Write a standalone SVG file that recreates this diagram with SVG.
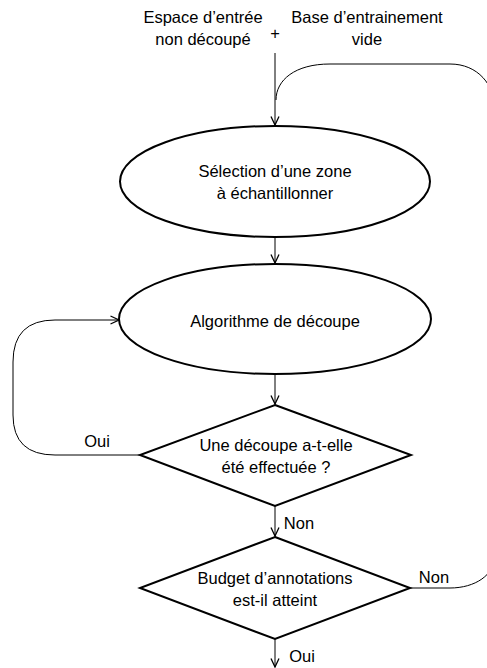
<svg xmlns="http://www.w3.org/2000/svg" width="487" height="668" viewBox="0 0 487 668">
<defs>
<marker id="arr" viewBox="0 0 10 10" refX="9.5" refY="5" markerWidth="10" markerHeight="10" markerUnits="userSpaceOnUse" orient="auto">
<path d="M1,1 L9.5,5 L1,9" fill="none" stroke="#000" stroke-width="1.3"/>
</marker>
<style>
.shape{fill:#fff;stroke:#000;stroke-width:2}
.con{fill:none;stroke:#000;stroke-width:1}
text{font-family:"Liberation Sans",Arial,sans-serif;font-size:16.5px;fill:#000;text-anchor:middle}
</style>
</defs>
<rect width="487" height="668" fill="#fff"/>
<g id="inputs">
<text x="203" y="23">Espace d’entrée</text>
<text x="203" y="45">non découpé</text>
<text x="275" y="39">+</text>
<text x="367" y="23">Base d’entrainement</text>
<text x="367" y="45">vide</text>
</g>
<g id="connectors">
<path class="con" d="M275,53 L275,125" marker-end="url(#arr)"/>
<path class="con" d="M410,588 L450,588 C475,588 495,575 495,555 L495,110 C495,85 478,64 450,64 L330,64 C295,64 276,80 276,100"/>
<path class="con" d="M275,237 L275,263" marker-end="url(#arr)"/>
<path class="con" d="M275,375 L275,404" marker-end="url(#arr)"/>
<path class="con" d="M140,455 L55,455 Q13,455 13,415 L13,362 Q13,320 55,320 L119,320" marker-end="url(#arr)"/>
<path class="con" d="M275,506 L275,536" marker-end="url(#arr)"/>
<path class="con" d="M275,639 L275,667" marker-end="url(#arr)"/>
<text x="97" y="447">Oui</text>
<text x="299" y="529">Non</text>
<text x="434" y="583">Non</text>
<text x="302" y="662">Oui</text>
</g>
<g id="selection">
<ellipse class="shape" cx="275" cy="181.5" rx="155" ry="55.5"/>
<text x="275" y="177">Sélection d’une zone</text>
<text x="275" y="199">à échantillonner</text>
</g>
<g id="algorithme">
<ellipse class="shape" cx="275" cy="319" rx="156" ry="55"/>
<text x="275" y="327">Algorithme de découpe</text>
</g>
<g id="decoupe">
<polygon class="shape" points="275,405 411,455 275,506 140,455"/>
<text x="276" y="451">Une découpe a-t-elle</text>
<text x="276" y="473">été effectuée ?</text>
</g>
<g id="budget">
<polygon class="shape" points="275,537 410,588 275,639 140,588"/>
<text x="275" y="584">Budget d’annotations</text>
<text x="275" y="606">est-il atteint</text>
</g>
</svg>
